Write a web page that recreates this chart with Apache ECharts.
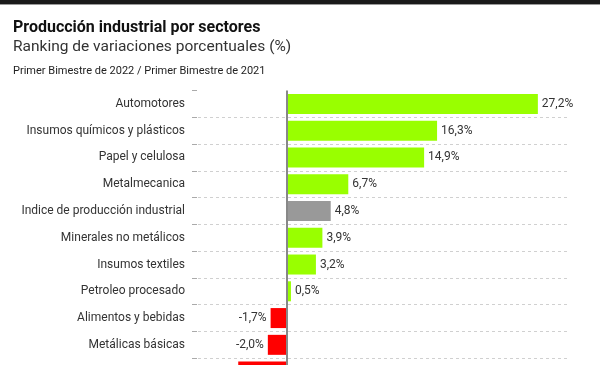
<!DOCTYPE html>
<html>
<head>
<meta charset="utf-8">
<script src="https://cdn.jsdelivr.net/npm/echarts@6/dist/echarts.min.js"></script>
<style>
html,body{margin:0;padding:0;background:#fff;}
#main{width:600px;height:365px;}
</style>
</head>
<body>
<div id="main"></div>
<script>
const titleText = 'Producción industrial por sectores';
const subtitleText = 'Ranking de variaciones porcentuales (%)';
const noteText = 'Primer Bimestre de 2022 / Primer Bimestre de 2021';
const categories = ['Automotores','Insumos químicos y plásticos','Papel y celulosa','Metalmecanica','Indice de producción industrial','Minerales no metálicos','Insumos textiles','Petroleo procesado','Alimentos y bebidas','Metálicas básicas','Cigarrillos'];
const values = [27.2, 16.3, 14.9, 6.7, 4.8, 3.9, 3.2, 0.5, -1.7, -2.0, -5.2];
const totalCategory = 'Indice de producción industrial';

const FONT = 'Roboto';
const chart = echarts.init(document.getElementById('main'));
const seriesData = values.map((v, i) => ({
  value: v,
  itemStyle: { color: categories[i] === totalCategory ? '#999999' : (v < 0 ? '#ff0000' : '#99ff00') },
  label: { position: v < 0 ? 'left' : 'right' }
}));

chart.setOption({
  animation: false,
  backgroundColor: '#ffffff',
  graphic: [
    { type: 'rect', shape: { x: 0, y: 0, width: 600, height: 4 }, style: { fill: '#1a1a1a' } },
    { type: 'rect', shape: { x: 0, y: 4, width: 600, height: 1 }, style: { fill: '#9a9a9a' } },
    { type: 'text', left: 13, top: 20, style: { text: titleText, font: 'bold 16px ' + FONT, fill: '#111' } },
    { type: 'text', left: 13, top: 39, style: { text: subtitleText, font: '15.5px ' + FONT, fill: '#333' } },
    { type: 'text', left: 13, top: 66, style: { text: noteText, font: '11px ' + FONT, fill: '#222' } }
  ],
  grid: { left: 192, right: 33, top: 90.5, bottom: -20, outerBoundsMode: 'none' },
  xAxis: {
    type: 'value', min: -10.2, max: 30.35,
    axisLine: { show: false }, axisTick: { show: false }, axisLabel: { show: false }, splitLine: { show: false }
  },
  yAxis: {
    type: 'category', inverse: true, data: categories,
    axisLine: { show: false, onZero: false },
    axisTick: { show: true, inside: true, length: 5, lineStyle: { color: '#aaa' } },
    axisLabel: { color: '#333', fontFamily: FONT, fontSize: 12, margin: 7 },
    splitLine: { show: true, showMinLine: false, lineStyle: { color: '#d0d0d0', type: [3, 3], width: 1 } }
  },
  series: [{
    type: 'bar',
    data: seriesData,
    barWidth: 20,
    label: {
      show: true, distance: 4, color: '#333', fontFamily: FONT, fontSize: 12,
      formatter: p => p.value.toFixed(1).replace('.', ',') + '%'
    },
    markLine: {
      silent: true, symbol: 'none', label: { show: false },
      lineStyle: { color: '#888', width: 2, type: 'solid' },
      data: [{ xAxis: 0 }]
    }
  }]
});
</script>
</body>
</html>
